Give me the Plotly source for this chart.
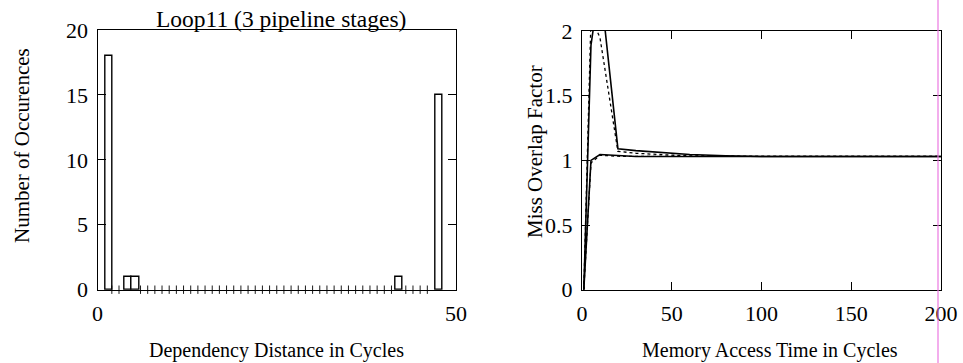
import plotly.graph_objects as go

# Left panel: histogram of dependency distances (Loop11, 3 pipeline stages)
bin_centers = [1.55, 4.3, 5.3, 42.0, 47.6]
occurrences = [18, 1, 1, 1, 15]
empty_bins = [d for d in range(2, 48) if d not in (4, 5, 42, 47)]

# Right panel: miss overlap factor vs. memory access time
access_time = [1, 5, 10, 20, 30, 40, 50, 60, 80, 100, 150, 200]
overlap_a = [0.0, 1.89, 2.38, 1.09, 1.075, 1.065, 1.055, 1.045, 1.035, 1.03, 1.03, 1.03]
overlap_a_est = [0.0, 2.1, 1.95, 1.07, 1.055, 1.045, 1.04, 1.035, 1.03, 1.03, 1.03, 1.03]
overlap_b = [0.0, 1.0, 1.045, 1.035, 1.03, 1.03, 1.03, 1.03, 1.03, 1.03, 1.03, 1.03]
overlap_b_est = [0.0, 0.98, 1.04, 1.032, 1.03, 1.03, 1.03, 1.03, 1.03, 1.03, 1.03, 1.03]

W, H = 963, 363
FONT = "Liberation Serif"
TICK_SIZE = 22

fig = go.Figure()

fig.add_trace(go.Bar(
    x=bin_centers, y=occurrences, width=1.0,
    marker=dict(color="white", line=dict(color="black", width=1.4)),
    xaxis="x", yaxis="y", showlegend=False,
))
fig.add_trace(go.Scatter(
    x=empty_bins, y=[0] * len(empty_bins), mode="markers",
    marker=dict(symbol="line-ns", size=6, line=dict(color="black", width=0.9)),
    cliponaxis=False, xaxis="x", yaxis="y", showlegend=False,
))

for ys, dash in [(overlap_a, "solid"), (overlap_a_est, "dot"),
                 (overlap_b, "solid"), (overlap_b_est, "dot")]:
    fig.add_trace(go.Scatter(
        x=access_time, y=ys, mode="lines",
        line=dict(color="black", width=1.6 if dash == "solid" else 1.3, dash=dash),
        xaxis="x2", yaxis="y2", showlegend=False,
    ))

def px_x(p):
    return p / W

def px_y(p):
    return 1 - p / H

axis_common = dict(
    showline=True, linecolor="black", linewidth=1.3, mirror="ticks",
    ticks="inside", ticklen=8, tickwidth=1.2, tickcolor="black",
    showgrid=False, zeroline=False, automargin=False,
    tickfont=dict(family=FONT, size=TICK_SIZE, color="black"),
)

fig.update_layout(
    width=W, height=H,
    margin=dict(l=0, r=0, t=0, b=0),
    paper_bgcolor="white", plot_bgcolor="white",
    bargap=0,
    xaxis=dict(domain=[px_x(97.5), px_x(456)], range=[0, 50],
               tickvals=[0, 50], anchor="y", ticklabelstandoff=4, **axis_common),
    yaxis=dict(domain=[px_y(289.7), px_y(30)], range=[0, 20],
               tickvals=[0, 5, 10, 15, 20], anchor="x", ticklabelstandoff=4, **axis_common),
    xaxis2=dict(domain=[px_x(582), px_x(941)], range=[0, 200],
                tickvals=[0, 50, 100, 150, 200], anchor="y2", ticklabelstandoff=4, **axis_common),
    yaxis2=dict(domain=[px_y(289.7), px_y(31)], range=[0, 2],
                tickvals=[0, 0.5, 1, 1.5, 2], ticktext=["0", "0.5", "1", "1.5", "2"],
                anchor="x2", ticklabelstandoff=4, **axis_common),
    font=dict(family=FONT, size=20, color="black"),
)

def label(text, x, y, angle=0, size=20):
    fig.add_annotation(
        text=text, x=px_x(x), y=px_y(y), xref="paper", yref="paper",
        showarrow=False, textangle=angle, xanchor="center", yanchor="middle",
        font=dict(family=FONT, size=size, color="black"),
    )

label("Loop11 (3 pipeline stages)", 281, 19, size=23.5)
label("Number of Occurences", 22, 146, angle=-90, size=21)
label("Dependency Distance in Cycles", 276, 350, size=20)
label("Miss Overlap Factor", 535, 152, angle=-90, size=21)
label("Memory Access Time in Cycles", 770, 350, size=20)

# thin magenta streak running down the right panel
fig.add_shape(type="line", xref="paper", yref="paper",
              x0=px_x(938), x1=px_x(938), y0=0, y1=1,
              line=dict(color="rgba(235,120,225,0.8)", width=1.5), layer="above")

fig.write_html("out.html")
